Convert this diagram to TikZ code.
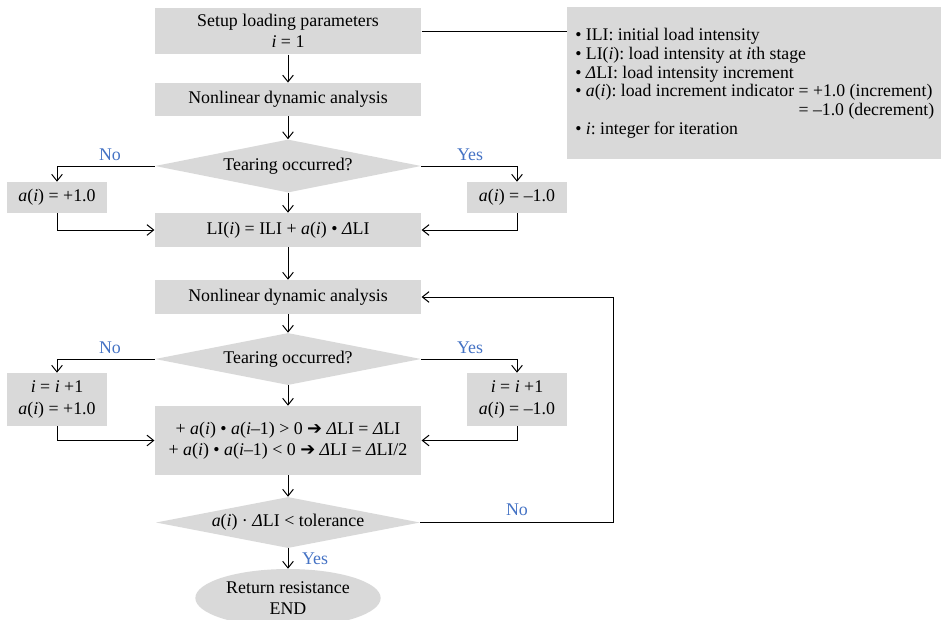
\documentclass[tikz,border=0pt]{standalone}
\usepackage{fontspec}
\setmainfont{Liberation Serif}
\newfontfamily\symfont{DejaVu Sans}
\usetikzlibrary{shapes.geometric,arrows.meta}
\definecolor{boxgray}{HTML}{D9D9D9}
\definecolor{yesno}{HTML}{4472C4}
\newcommand{\ii}{\textit{i}}
\newcommand{\ai}{\textit{a}(\textit{i})}
\newcommand{\dLI}{\textit{Δ}LI}
\frenchspacing

\begin{document}
\begin{tikzpicture}[x=0.75pt, y=-0.75pt,
  every node/.style={font=\fontsize{13.4}{16}\selectfont},
  proc/.style={fill=boxgray, align=center, minimum width=200pt, inner sep=0pt},
  test/.style={diamond, aspect=5, fill=boxgray, minimum width=199.5pt, inner sep=0pt},
  side/.style={fill=boxgray, align=center, minimum width=75pt, inner sep=0pt},
  flow/.style={-{Straight Barb[length=5pt,width=8pt]}, line width=0.75pt},
  yn/.style={text=yesno}]
  \useasboundingbox (0,0) rectangle (941,619);

  \node[proc, minimum height=35pt] (setup) at (288,31) {Setup loading parameters\\\ii{} = 1};
  \node[proc, minimum height=25pt] (nla) at (288,99.5) {Nonlinear dynamic analysis};
  \node[test, minimum height=39.75pt] (tearA) at (288,166) {Tearing occurred?};
  \node[side, minimum height=23.25pt] (incA) at (57,197.5) {\ai{} = +1.0};
  \node[side, minimum height=23.25pt] (decA) at (517,197.5) {\ai{} = –1.0};
  \node[proc, minimum height=25.5pt] (li) at (288,230) {LI(\ii) = ILI + \ai{} • \dLI};
  \node[proc, minimum height=25.5pt] (nlb) at (288,297) {Nonlinear dynamic analysis};
  \node[test, minimum height=39pt] (tearB) at (288,359) {Tearing occurred?};
  \node[side, minimum height=39.75pt] (incB) at (57,399.5) {\ii{} = \ii{} +1\\\ai{} = +1.0};
  \node[side, minimum height=39.75pt] (decB) at (517,399.5) {\ii{} = \ii{} +1\\\ai{} = –1.0};
  \node[proc, minimum height=51.75pt] (halve) at (288,440.5) {+ \ai{} • \textit{a}(\ii–1) > 0 {\symfont ➔} \dLI{} = \dLI\\+ \ai{} • \textit{a}(\ii–1) < 0 {\symfont ➔} \dLI{} = \dLI/2};
  \node[test, minimum height=38.25pt, minimum width=198pt] (tol) at (288,522.5) {\ai{} · \dLI{} < tolerance};
  \node[ellipse, fill=boxgray, align=center, minimum width=139pt, minimum height=43.5pt, inner sep=0pt] (stop) at (288,598) {Return resistance\\END};
  \node[fill=boxgray, anchor=north west, align=left, minimum width=280.5pt, minimum height=114pt, inner xsep=6pt, inner ysep=0pt, font=\fontsize{13.3}{14.2}\selectfont] (legend) at (567,7) {%
    • ILI: initial load intensity\\
    • LI(\ii): load intensity at \ii th stage\\
    • \dLI: load intensity increment\\
    • \ai: load increment indicator = +1.0 (increment)\\
    \phantom{• \ai: load increment indicator} = –1.0 (decrement)\\
    • \ii: integer for iteration};

  \node[yn] (noA) at (110,155) {No};
  \node[yn] (yesA) at (470,155) {Yes};
  \node[yn] (noB) at (110,348) {No};
  \node[yn] (yesB) at (470,348) {Yes};
  \node[yn] (noC) at (517,510) {No};
  \node[yn] (yesC) at (315,559) {Yes};
  \coordinate (back) at (613,522.5);

  \draw[line width=0.75pt] (setup.east) -- (legend.west |- setup.east);
  \draw[flow] (setup) -- (nla);
  \draw[flow] (nla) -- (tearA);
  \draw[flow] (tearA.west) -| (incA.north);
  \draw[flow] (tearA.east) -| (decA.north);
  \draw[flow] (tearA) -- (li);
  \draw[flow] (incA.south) |- (li.west);
  \draw[flow] (decA.south) |- (li.east);
  \draw[flow] (li) -- (nlb);
  \draw[flow] (nlb) -- (tearB);
  \draw[flow] (tearB.west) -| (incB.north);
  \draw[flow] (tearB.east) -| (decB.north);
  \draw[flow] (tearB) -- (halve);
  \draw[flow] (incB.south) |- (halve.west);
  \draw[flow] (decB.south) |- (halve.east);
  \draw[flow] (halve) -- (tol);
  \draw[flow] (tol) -- (stop);
  \draw[flow] (tol.east) -- (back) |- (nlb.east);
\end{tikzpicture}
\end{document}
